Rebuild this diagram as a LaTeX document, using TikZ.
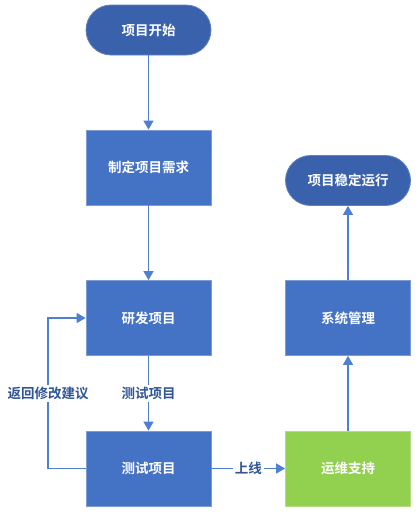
\documentclass[tikz,border=0pt]{standalone}
\usepackage{fontspec}
\setmainfont{Noto Sans CJK SC}[BoldFont={Noto Sans CJK SC Bold}]
\usetikzlibrary{arrows.meta}
\definecolor{boxblue}{HTML}{4472C4}
\definecolor{termblue}{HTML}{3A62AC}
\definecolor{linkblue}{HTML}{4E7FD0}
\definecolor{labelblue}{HTML}{2F5597}
\definecolor{green}{HTML}{92D050}
\tikzset{
  every node/.style={font=\fontsize{13.5pt}{15pt}\selectfont\bfseries},
  stepbox/.style={rectangle, fill=boxblue, draw=boxblue!70!white, line width=0.8pt, minimum width=125pt, minimum height=75pt, text=white, inner sep=0pt},
  term/.style={rectangle, rounded corners=25pt, fill=termblue, draw=termblue!80!white, line width=0.8pt, minimum width=125pt, minimum height=50pt, text=white, inner sep=0pt},
  link/.style={draw=linkblue, line width=1.4pt, -{Triangle[width=10pt,length=9pt]}},
  lbl/.style={fill=white, text=labelblue, inner sep=2pt}
}
\begin{document}
\begin{tikzpicture}[x=1pt,y=-1pt]
\useasboundingbox (0,0) rectangle (420,514);
\node[term] (start) at (148.5,30) {项目开始};
\node[stepbox] (req) at (148.5,167.5) {制定项目需求};
\node[stepbox] (dev) at (148.5,318) {研发项目};
\node[stepbox] (test) at (148.5,468.5) {测试项目};
\node[stepbox, fill=green, draw=green!70!white] (ops) at (348,468.5) {运维支持};
\node[stepbox] (sys) at (348,318) {系统管理};
\node[term] (end) at (348,180.5) {项目稳定运行};
\coordinate (lb) at (48,468.5);
\coordinate (lt) at (48,318);
\draw[link] (start) -- (req);
\draw[link] (req) -- (dev);
\draw[link] (dev) -- node[lbl] {测试项目} (test);
\draw[link] (test) -- node[lbl, pos=0.5] {上线} (ops);
\draw[link] (ops) -- (sys);
\draw[link] (sys) -- (end);
\draw[link] (test.west) -- (lb) -- node[lbl, pos=0.5] {返回修改建议} (lt) -- (dev.west);
\end{tikzpicture}
\end{document}
